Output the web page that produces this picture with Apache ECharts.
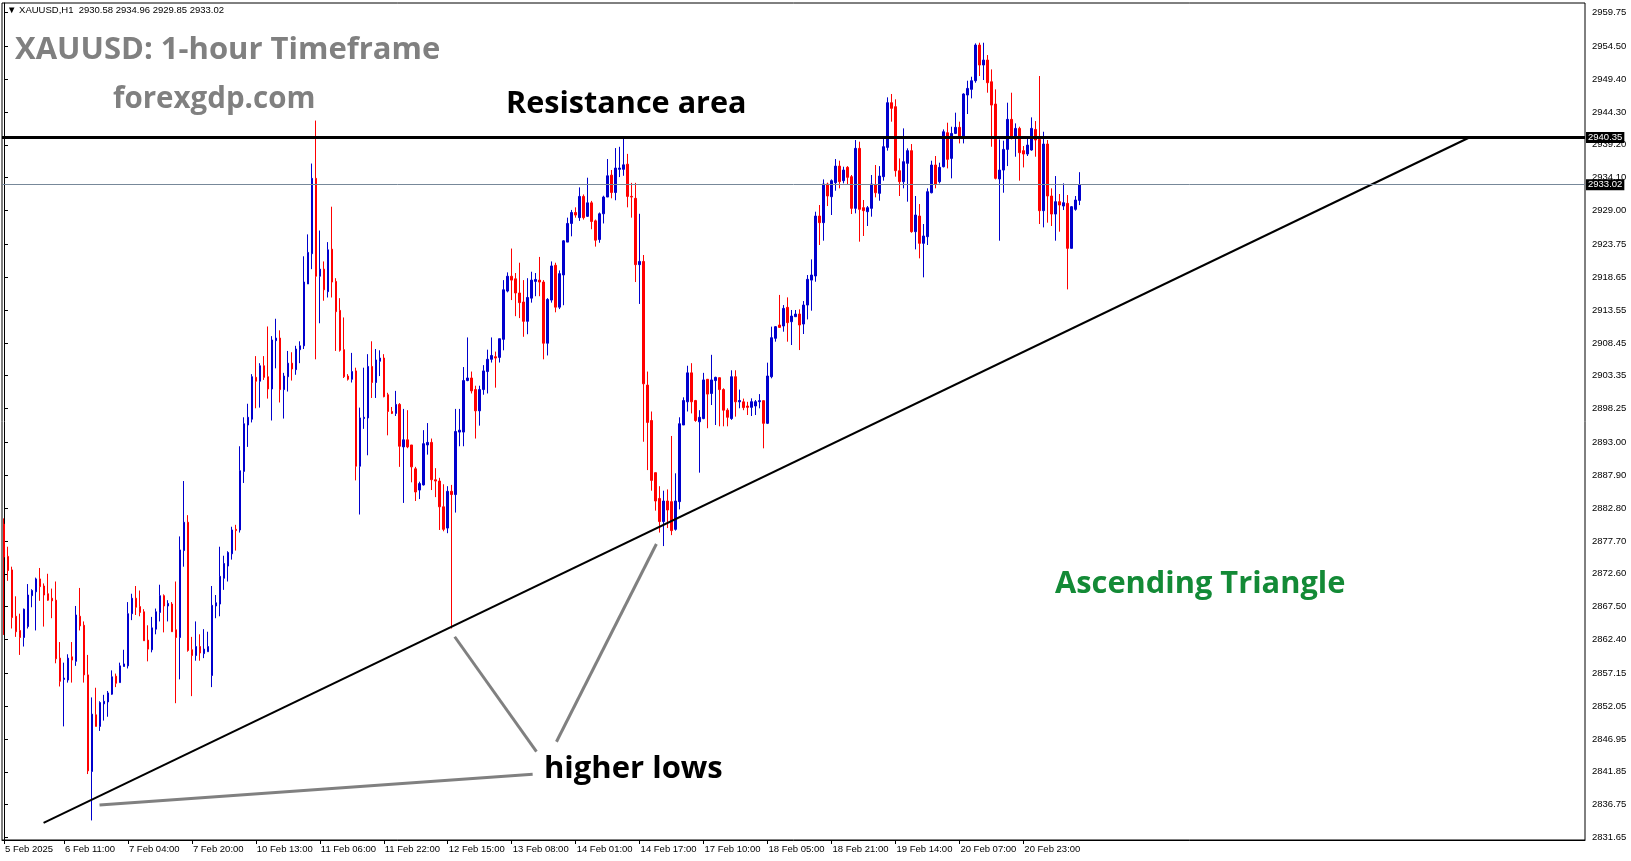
<!DOCTYPE html>
<html>
<head>
<meta charset="utf-8">
<script src="https://cdn.jsdelivr.net/npm/echarts@6.0.0/dist/echarts.min.js"></script>
<style>
html,body{margin:0;padding:0;background:#fff;}
#chart{width:1631px;height:861px;}
</style>
</head>
<body>
<div id="chart"></div>
<script>
// ---- DATA (XAUUSD H1) ----
const opens = [2880.3,2875.3,2873.2,2866.0,2863.8,2862.7,2864.4,2869.2,2869.8,2871.8,2870.7,2869.5,2868.8,2868.5,2859.5,2856.2,2856.1,2859.7,2859.0,2866.0,
2864.6,2856.9,2841.9,2850.7,2848.9,2852.4,2852.7,2853.9,2856.7,2855.7,2858.2,2858.3,2866.4,2868.8,2867.5,2866.7,2862.3,2860.8,2864.0,2866.6,
2869.2,2867.6,2867.9,2863.9,2862.7,2876.2,2880.6,2860.8,2859.9,2861.3,2860.2,2860.5,2856.8,2867.6,2867.9,2871.9,2873.8,2875.7,2879.5,2879.4,
2888.5,2895.7,2896.6,2903.1,2902.5,2904.9,2903.2,2901.3,2908.8,2909.2,2901.2,2903.2,2905.3,2904.3,2907.4,2908.0,2917.6,2922.3,2934.0,2918.8,
2919.9,2916.4,2923.0,2918.0,2913.5,2907.4,2903.3,2902.8,2904.1,2889.3,2896.7,2896.8,2904.8,2902.3,2905.6,2906.1,2900.4,2897.8,2897.5,2898.9,
2892.3,2893.4,2892.6,2888.9,2885.6,2886.4,2892.6,2893.0,2887.2,2887.0,2883.0,2879.7,2885.4,2884.9,2894.6,2894.6,2902.6,2903.0,2901.2,2897.9,
2901.2,2904.0,2905.9,2906.3,2906.2,2909.0,2916.5,2918.8,2918.4,2916.2,2914.8,2911.8,2915.4,2918.0,2918.2,2917.9,2908.4,2915.1,2920.5,2914.0,
2919.0,2924.1,2927.0,2928.7,2927.9,2931.2,2928.1,2930.2,2927.4,2924.5,2928.5,2931.1,2934.5,2931.8,2935.4,2935.4,2936.2,2931.2,2930.9,2920.6,
2921.1,2901.9,2896.4,2888.3,2884.3,2880.7,2883.9,2883.8,2879.5,2883.8,2895.7,2899.3,2903.8,2899.5,2896.2,2896.7,2902.8,2900.6,2902.6,2903.05,
2901.2,2898.0,2896.7,2903.2,2899.3,2899.3,2898.65,2898.44,2898.65,2899.32,2899.48,2895.96,2903.2,2909.16,2911.23,2911.07,2913.97,2911.74,2912.52,2912.93,
2911.38,2914.33,2918.2,2918.84,2928.15,2927.12,2933.12,2931.15,2933.33,2935.9,2933.64,2935.71,2934.26,2929.34,2938.66,2929.45,2928.82,2929.34,2932.97,2931.67,
2934.26,2938.81,2945.75,2945.13,2935.19,2933.48,2936.33,2938.3,2925.72,2928.15,2923.91,2924.94,2931.77,2936.07,2933.48,2935.81,2941.09,2937.1,2940.98,2941.92,
2940.2,2946.94,2947.82,2949.16,2954.7,2951.6,2952.37,2949.0,2945.54,2933.9,2935.29,2938.5,2943.16,2940.2,2941.76,2938.3,2937.78,2938.4,2941.6,2940.05,
2928.98,2939.33,2931.26,2928.46,2930.38,2929.7,2930.12,2923.13,2929.19,2930.58];
const highs = [2881.2,2876.8,2873.7,2869.1,2866.4,2867.2,2871.0,2870.2,2872.0,2873.5,2871.1,2872.6,2870.3,2871.4,2862.0,2858.8,2860.1,2862.0,2867.6,2870.4,
2865.2,2860.0,2853.4,2854.9,2852.8,2853.8,2854.4,2857.6,2857.1,2858.8,2860.8,2868.2,2869.5,2870.7,2870.0,2867.1,2864.6,2865.9,2867.2,2870.9,
2869.4,2868.5,2868.2,2871.4,2878.4,2887.0,2881.7,2862.8,2865.2,2863.2,2864.0,2863.6,2870.7,2869.3,2876.8,2875.4,2876.1,2879.9,2880.2,2892.4,
2896.9,2899.0,2903.6,2906.4,2905.3,2906.4,2911.0,2909.5,2912.2,2910.4,2903.8,2907.2,2907.0,2908.0,2908.7,2921.9,2925.3,2936.3,2942.97,2925.9,
2921.1,2924.1,2929.6,2918.5,2915.4,2912.4,2903.6,2906.9,2904.6,2898.4,2904.6,2906.7,2908.7,2907.5,2907.3,2906.7,2900.7,2898.5,2901.0,2899.1,
2898.2,2898.0,2892.6,2889.2,2886.9,2894.9,2896.0,2893.6,2889.0,2887.5,2886.5,2886.2,2886.4,2898.2,2898.2,2904.7,2909.3,2904.0,2901.8,2901.8,
2905.0,2907.4,2909.3,2907.1,2909.1,2918.2,2919.4,2923.1,2919.3,2920.9,2918.2,2918.5,2919.5,2919.3,2921.8,2918.2,2915.4,2921.1,2920.9,2919.7,
2924.4,2927.9,2929.1,2929.5,2932.6,2931.5,2934.1,2930.5,2927.6,2928.7,2931.3,2937.0,2935.3,2938.7,2938.9,2940.3,2937.8,2933.3,2933.3,2928.5,
2922.1,2904.0,2897.8,2888.3,2886.2,2885.5,2885.7,2894.0,2888.2,2896.9,2900.0,2904.9,2905.3,2899.6,2898.0,2903.8,2902.8,2906.6,2903.2,2903.05,
2901.4,2898.3,2904.2,2904.2,2901.2,2899.8,2899.3,2899.84,2899.58,2900.5,2899.48,2905.38,2910.97,2911.07,2915.9,2914.33,2915.52,2913.56,2913.56,2913.66,
2914.95,2918.99,2921.42,2928.82,2929.86,2933.84,2933.33,2933.84,2937.0,2936.74,2935.81,2935.9,2934.52,2939.95,2939.69,2930.64,2929.7,2934.52,2936.07,2935.9,
2940.37,2946.58,2947.1,2946.27,2937.1,2941.76,2938.66,2939.33,2931.26,2930.01,2926.91,2932.45,2936.74,2937.47,2936.43,2941.6,2942.64,2942.02,2944.2,2942.8,
2947.2,2949.16,2949.78,2954.96,2955.06,2955.06,2953.15,2950.92,2947.82,2940.05,2939.85,2945.75,2947.3,2942.54,2942.02,2939.02,2940.36,2943.47,2942.9,2949.89,
2941.24,2939.95,2932.45,2934.36,2931.57,2933.22,2931.41,2929.7,2931.26,2934.96];
const lows = [2863.1,2871.5,2864.1,2862.8,2860.0,2861.3,2864.1,2867.4,2863.8,2868.4,2864.4,2868.4,2865.7,2858.7,2855.1,2848.9,2855.7,2855.7,2858.3,2863.8,
2855.7,2841.5,2834.3,2848.9,2848.2,2849.8,2850.4,2853.8,2855.0,2855.7,2858.2,2857.9,2865.4,2866.2,2866.0,2862.2,2859.0,2860.4,2863.2,2865.2,
2863.5,2865.2,2863.6,2852.5,2856.2,2873.7,2860.5,2853.6,2859.1,2859.1,2859.5,2860.5,2855.0,2865.7,2866.0,2870.1,2871.4,2874.8,2876.2,2879.0,
2886.7,2892.3,2896.1,2898.3,2898.4,2902.7,2899.8,2896.4,2904.5,2899.2,2896.7,2900.9,2902.6,2903.5,2905.3,2907.5,2917.6,2919.9,2905.9,2911.5,
2915.0,2915.5,2915.5,2907.2,2907.1,2903.0,2902.6,2902.3,2887.1,2881.8,2895.1,2891.0,2899.9,2899.9,2903.3,2900.0,2894.1,2897.4,2897.1,2889.2,
2883.6,2892.1,2886.8,2883.9,2884.2,2886.3,2891.1,2885.6,2884.5,2879.4,2879.2,2878.9,2864.1,2882.1,2892.4,2892.4,2902.5,2900.6,2893.6,2895.6,
2900.4,2900.6,2905.4,2901.5,2905.4,2907.3,2916.3,2915.1,2912.6,2912.3,2909.4,2909.8,2914.7,2915.7,2915.7,2905.9,2906.5,2914.7,2913.2,2913.7,
2914.3,2924.1,2925.0,2927.9,2927.4,2927.6,2928.0,2926.1,2923.4,2924.0,2927.0,2931.1,2930.9,2930.6,2934.2,2934.4,2929.5,2927.9,2917.9,2914.5,
2893.1,2888.7,2885.5,2882.4,2879.0,2876.9,2879.7,2878.6,2879.3,2882.6,2895.7,2897.8,2897.5,2896.2,2888.3,2896.6,2895.2,2898.8,2895.7,2895.5,
2895.5,2895.5,2896.5,2897.0,2898.3,2898.0,2897.25,2897.1,2897.25,2898.29,2892.08,2895.85,2902.95,2908.64,2910.8,2910.19,2908.64,2908.12,2912.52,2907.34,
2909.83,2912.1,2913.45,2917.95,2923.65,2924.32,2929.7,2928.31,2932.08,2932.45,2933.22,2933.12,2928.46,2928.57,2924.17,2925.05,2926.6,2928.05,2931.05,2930.53,
2933.64,2938.3,2942.8,2934.26,2931.26,2932.45,2930.38,2925.56,2922.97,2921.58,2918.63,2923.65,2931.67,2932.45,2933.22,2935.7,2935.55,2934.0,2940.88,2939.43,
2939.43,2943.99,2946.42,2948.85,2949.89,2949.27,2947.3,2938.91,2933.84,2924.32,2931.77,2935.91,2940.05,2937.36,2933.64,2935.7,2937.47,2938.3,2937.36,2926.91,
2926.39,2927.12,2926.6,2924.32,2925.72,2929.08,2916.76,2923.13,2928.98,2929.85];
const closes = [2875.2,2873.1,2865.8,2863.6,2862.7,2867.1,2869.3,2870.0,2871.8,2870.6,2869.3,2868.5,2868.4,2859.4,2855.9,2856.4,2859.5,2859.2,2866.2,2864.5,
2856.9,2842.0,2850.8,2848.9,2852.6,2852.8,2854.1,2856.6,2855.6,2858.3,2858.6,2866.4,2868.8,2867.4,2866.6,2862.2,2860.9,2864.2,2866.7,2869.2,
2867.6,2868.0,2863.6,2862.7,2876.3,2880.6,2860.7,2859.9,2861.3,2860.3,2860.9,2861.3,2867.7,2868.1,2872.2,2874.2,2875.9,2879.4,2879.3,2888.6,
2895.9,2896.9,2903.2,2902.5,2904.9,2903.1,2901.3,2908.9,2909.2,2901.2,2903.3,2905.3,2904.4,2907.5,2908.0,2917.9,2922.5,2934.0,2918.8,2919.9,
2916.7,2922.9,2917.9,2913.3,2907.3,2903.2,2902.8,2904.0,2889.3,2896.8,2896.9,2904.8,2902.3,2905.8,2906.1,2900.1,2897.8,2897.5,2898.9,2892.4,
2893.4,2892.3,2889.2,2885.3,2886.6,2892.8,2893.0,2887.2,2887.0,2883.0,2879.5,2885.4,2884.9,2894.7,2894.9,2902.6,2903.0,2901.0,2897.9,2901.2,
2904.1,2905.9,2906.5,2906.1,2909.1,2916.7,2918.8,2918.2,2916.2,2914.7,2911.8,2915.5,2918.2,2918.3,2917.9,2908.4,2915.2,2920.4,2914.0,2919.2,
2924.3,2927.0,2928.7,2928.3,2931.2,2927.9,2930.2,2927.3,2924.4,2928.5,2931.1,2934.4,2931.8,2935.6,2935.6,2936.1,2931.2,2931.1,2920.6,2921.1,
2902.1,2896.1,2887.1,2883.9,2880.7,2883.9,2882.5,2879.3,2883.9,2895.9,2899.5,2903.8,2899.3,2896.4,2896.9,2902.7,2900.5,2902.7,2903.1,2901.2,
2898.0,2896.9,2903.2,2899.3,2899.5,2898.4,2898.44,2899.32,2899.32,2899.48,2895.96,2903.31,2909.26,2910.97,2910.86,2913.81,2911.59,2912.62,2912.93,2911.23,
2914.33,2918.32,2918.99,2928.15,2927.12,2933.12,2931.26,2933.64,2935.9,2933.48,2935.29,2934.16,2929.34,2938.66,2929.19,2928.98,2929.45,2933.12,2931.77,2934.36,
2938.92,2945.75,2944.87,2935.19,2933.48,2936.59,2938.3,2925.72,2928.31,2923.91,2925.05,2931.93,2936.07,2933.12,2935.71,2941.24,2936.95,2940.98,2941.92,2940.2,
2947.1,2947.97,2949.16,2954.7,2951.6,2952.37,2948.85,2945.38,2934.0,2935.29,2938.5,2943.16,2940.2,2941.76,2937.98,2937.78,2939.17,2941.76,2939.95,2928.98,
2939.33,2931.26,2928.46,2930.38,2929.86,2930.22,2923.13,2929.6,2930.64,2933.02];

// price-scale tick labels (right axis)
const yTicks = [2831.65,2836.75,2841.85,2846.95,2852.05,2857.15,2862.40,2867.50,2872.60,2877.70,2882.80,2887.90,2893.00,
2898.25,2903.35,2908.45,2913.55,2918.65,2923.75,2929.00,2934.10,2939.20,2944.30,2949.40,2954.50,2959.75];
const yMin = 2831.26, yMax = 2961.23;

// horizontal levels
const resistanceLevel = 2940.35;
const bidLevel = 2933.02;

// annotation lines in (bar index, price)
const trendLine = [[9.9, 2833.93], [366.7, 2940.38]];
const pointerLines = [
  [[23.9, 2836.69], [132.25, 2841.46]],
  [[112.75, 2862.82], [133.2, 2844.97]],
  [[163.2, 2877.22], [138.2, 2846.52]]
];

// time axis: first bar 5 Feb 2025 19:00, H1, label every 16 bars starting at bar 15
const firstBar = Date.UTC(2025, 1, 5, 19);
const monthNames = ['Jan','Feb','Mar','Apr','May','Jun','Jul','Aug','Sep','Oct','Nov','Dec'];
const labelStart = 15, labelStep = 16;
const totalSlots = 396;

function buildCategories(count) {
  const out = [];
  let t = firstBar;
  while (out.length < count) {
    const d = new Date(t);
    const wd = d.getUTCDay(), h = d.getUTCHours();
    const holidayClose = d.getUTCMonth() === 1 && d.getUTCDate() === 17 && h > 21;
    if (wd !== 0 && wd !== 6 && h !== 0 && !holidayClose) {
      const hh = String(h).padStart(2, '0');
      out.push(out.length === 0 ? d.getUTCDate() + ' ' + monthNames[d.getUTCMonth()] + ' ' + d.getUTCFullYear()
                                : d.getUTCDate() + ' ' + monthNames[d.getUTCMonth()] + ' ' + hh + ':00');
    }
    t += 3600000;
  }
  return out;
}
const nBars = opens.length;
const categories = buildCategories(nBars);
for (let i = nBars; i < totalSlots; i++) categories.push('slot' + i);

const candleData = opens.map((o, i) => [o, closes[i], lows[i], highs[i]]);

function showLabel(i) {
  return i < nBars && (i === 0 || (i >= labelStart && (i - labelStart) % labelStep === 0));
}

const chart = echarts.init(document.getElementById('chart'), null, {renderer: 'canvas'});
const FONT = '"Liberation Sans", "DejaVu Sans", sans-serif';
const BIG = '"Open Sans", "DejaVu Sans", sans-serif';

const lineSeries = [
  {type: 'line', xAxisIndex: 1, data: trendLine, showSymbol: false, silent: true,
   lineStyle: {color: '#000', width: 2}, z: 4, animation: false},
].concat(pointerLines.map(p => ({
  type: 'line', xAxisIndex: 1, data: p, showSymbol: false, silent: true,
  lineStyle: {color: '#808080', width: 3}, z: 4, animation: false
})));

chart.setOption({
  animation: false,
  backgroundColor: '#fff',
  grid: {left: 2, top: 3, right: 46, bottom: 21, show: true, borderColor: '#000', borderWidth: 1, containLabel: false},
  xAxis: [{
    type: 'category', data: categories, boundaryGap: true,
    axisLine: {show: true, lineStyle: {color: '#000', width: 1}},
    axisTick: {show: true, alignWithLabel: true, interval: (i) => showLabel(i), length: 4, lineStyle: {color: '#000'}},
    axisLabel: {show: true, interval: (i) => showLabel(i), color: '#000', fontFamily: FONT, fontSize: 9.5,
      align: 'left', margin: 4, padding: [0, 0, 0, 1],
      formatter: (v) => v.startsWith('slot') ? '' : v},
    splitLine: {show: false}
  }, {
    type: 'value', min: -0.5, max: totalSlots - 0.5, show: false, position: 'top'
  }],
  yAxis: {
    type: 'value', position: 'right', min: yMin, max: yMax, scale: true,
    axisLine: {show: true, lineStyle: {color: '#000', width: 1}},
    axisTick: {show: true, length: 4, inside: false, lineStyle: {color: '#000'}, customValues: yTicks},
    axisLabel: {show: true, color: '#000', fontFamily: FONT, fontSize: 9.5, margin: 7,
      customValues: yTicks, formatter: (v) => Number(v).toFixed(2)},
    splitLine: {show: false}
  },
  series: [{
    type: 'candlestick', data: candleData, barWidth: 2,
    itemStyle: {color: '#0000CD', color0: '#FF0000', borderColor: '#0000CD', borderColor0: '#FF0000', borderWidth: 1},
    z: 3,
    markLine: {
      silent: true, symbol: ['none', 'none'], animation: false,
      data: [
        {yAxis: resistanceLevel, lineStyle: {color: '#000', width: 3, type: 'solid'},
         label: {show: true, position: 'end', formatter: resistanceLevel.toFixed(2), color: '#fff', backgroundColor: '#000',
                 fontFamily: FONT, fontSize: 9.5, padding: [1, 2, 0, 2], distance: 1}},
        {yAxis: bidLevel, lineStyle: {color: '#778899', width: 1, type: 'solid'},
         label: {show: true, position: 'end', formatter: bidLevel.toFixed(2), color: '#fff', backgroundColor: '#000',
                 fontFamily: FONT, fontSize: 9.5, padding: [1, 2, 0, 2], distance: 1}}
      ]
    }
  }].concat(lineSeries),
  graphic: [
    {type: 'text', z: 10, style: {x: 7, y: 10, text: '▼ XAUUSD,H1  2930.58 2934.96 2929.85 2933.02', font: '9.5px ' + FONT, fill: '#000', verticalAlign: 'middle'}},
    {type: 'text', z: 10, style: {x: 15, y: 50, text: 'XAUUSD: 1-hour Timeframe', font: 'bold 31px ' + BIG, fill: '#808080', verticalAlign: 'middle'}},
    {type: 'text', z: 10, style: {x: 113, y: 100, text: 'forexgdp.com', font: 'bold 29.5px ' + BIG, fill: '#808080', verticalAlign: 'middle'}},
    {type: 'text', z: 10, style: {x: 506, y: 104, text: 'Resistance area', font: 'bold 30.6px ' + BIG, fill: '#000', verticalAlign: 'middle'}},
    {type: 'text', z: 10, style: {x: 544, y: 769, text: 'higher lows', font: 'bold 31px ' + BIG, fill: '#000', verticalAlign: 'middle'}},
    {type: 'text', z: 10, style: {x: 1055, y: 584, text: 'Ascending Triangle', font: 'bold 30.8px ' + BIG, fill: '#138a36', verticalAlign: 'middle'}}
  ]
});
</script>
</body>
</html>
